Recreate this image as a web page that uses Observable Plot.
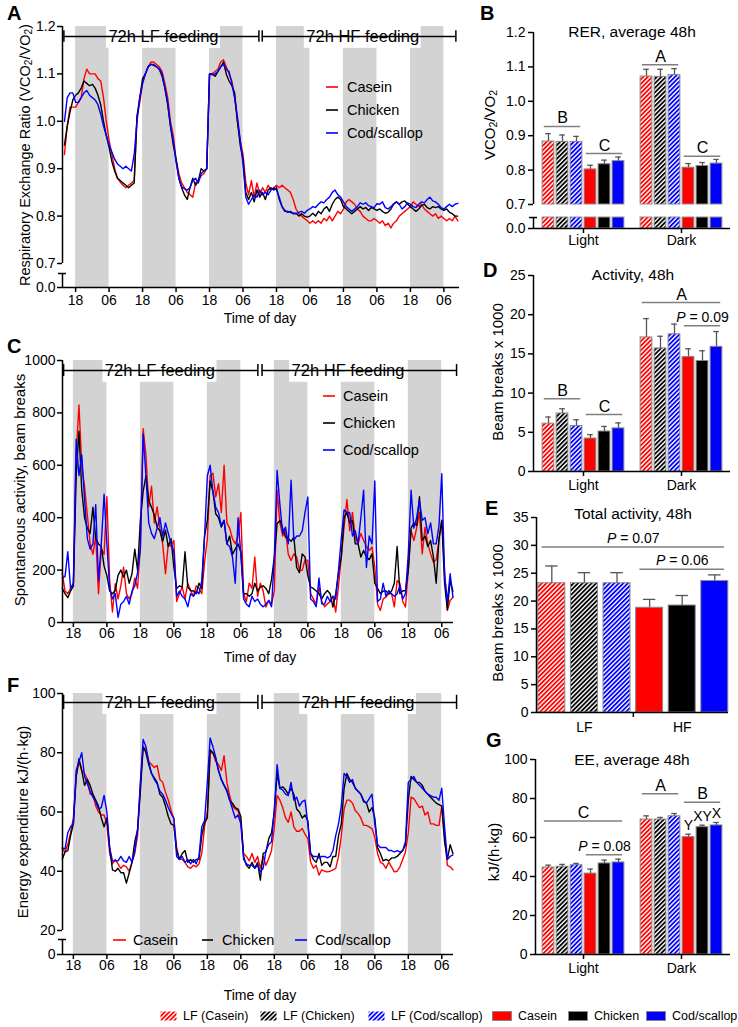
<!DOCTYPE html>
<html><head><meta charset="utf-8">
<script src="https://cdn.jsdelivr.net/npm/d3@7"></script>
<script src="https://cdn.jsdelivr.net/npm/@observablehq/plot@0.6"></script>
<style>
body{margin:0;background:#fff;}
#fig{position:relative;width:738px;height:1027px;overflow:hidden;background:#fff;font-family:"Liberation Sans",Arial,Helvetica,sans-serif;color:#000;}
.abs{position:absolute;white-space:nowrap;line-height:1;}
.abs sub{font-size:0.7em;vertical-align:-0.25em;line-height:0;}
</style></head><body><div id="fig"></div>
<script>
const FONT = '"Liberation Sans", Arial, Helvetica, sans-serif';
const fig = document.getElementById("fig");

// ================= DATA =================
const seriesNames = ["Casein", "Chicken", "Cod/scallop"];
const seriesColors = ["#ff0000", "#000000", "#0000ff"];
const tStart = -4;                       // first hourly sample, hours from the first 18:00
const darkStarts = [0, 24, 48, 72, 96, 120];
const darkHours = 12;
const timeTicks = [0, 12, 24, 36, 48, 60, 72, 84, 96, 108, 120, 132];
const timeTickLabels = ["18","06","18","06","18","06","18","06","18","06","18","06"];
const feedLabels = ["72h LF feeding", "72h HF feeding"];

// RER (VCO2/VO2), hourly from t = -4
const rerCasein = [
0.93,0.99,1.03,1.03,1.03,1.04,1.05,1.09,1.11,1.10,1.10,1.10,
1.09,1.085,1.05,1.00,0.96,0.93,0.90,0.88,0.872,0.865,0.86,0.865,
0.87,0.875,1.01,1.04,1.08,1.10,1.115,1.125,1.125,1.12,1.115,1.105,
1.08,1.05,1.00,0.97,0.92,0.89,0.87,0.86,0.85,0.845,0.84,0.87,
0.875,0.885,0.89,0.90,1.10,1.10,1.105,1.11,1.125,1.13,1.115,1.10,
1.085,1.05,1.00,0.96,0.93,0.87,0.845,0.875,0.84,0.87,0.845,0.86,
0.85,0.865,0.855,0.86,0.865,0.86,0.865,0.86,0.855,0.85,0.835,0.815,
0.805,0.80,0.795,0.79,0.785,0.79,0.785,0.79,0.785,0.795,0.79,0.80,
0.79,0.80,0.81,0.805,0.815,0.83,0.835,0.83,0.825,0.815,0.81,0.80,
0.795,0.79,0.79,0.795,0.79,0.785,0.79,0.78,0.785,0.775,0.785,0.79,
0.80,0.805,0.81,0.815,0.82,0.83,0.825,0.82,0.825,0.815,0.81,0.805,
0.80,0.805,0.795,0.80,0.795,0.79,0.795,0.79,0.80,0.79];
const rerChicken = [
0.95,0.99,1.02,1.045,1.055,1.06,1.07,1.085,1.08,1.075,1.078,1.07,
1.055,1.035,1.00,0.97,0.945,0.915,0.895,0.88,0.875,0.87,0.865,0.86,
0.865,0.87,1.01,1.05,1.09,1.10,1.115,1.12,1.118,1.115,1.11,1.095,
1.07,1.035,0.99,0.95,0.92,0.88,0.86,0.845,0.835,0.86,0.88,0.865,
0.875,0.90,0.895,0.90,1.10,1.10,1.095,1.105,1.115,1.125,1.10,1.085,
1.075,1.06,1.00,0.95,0.92,0.85,0.835,0.85,0.83,0.855,0.84,0.85,
0.835,0.855,0.86,0.855,0.86,0.835,0.82,0.81,0.81,0.808,0.805,0.806,
0.80,0.805,0.80,0.798,0.80,0.806,0.80,0.81,0.805,0.815,0.82,0.81,
0.825,0.835,0.84,0.835,0.82,0.815,0.81,0.805,0.81,0.815,0.82,0.815,
0.818,0.812,0.818,0.815,0.812,0.815,0.81,0.806,0.808,0.815,0.825,0.83,
0.825,0.83,0.832,0.825,0.82,0.815,0.81,0.815,0.822,0.825,0.818,0.815,
0.82,0.818,0.82,0.815,0.812,0.815,0.808,0.805,0.80,0.80];
const rerCod = [
1.0,1.05,1.06,1.06,1.04,1.04,1.05,1.06,1.065,1.055,1.05,1.045,
1.035,1.015,0.99,0.97,0.95,0.935,0.92,0.91,0.905,0.90,0.905,0.90,
0.895,0.93,1.00,1.05,1.08,1.10,1.115,1.12,1.12,1.115,1.11,1.10,
1.07,1.04,0.99,0.96,0.915,0.88,0.862,0.858,0.855,0.86,0.875,0.88,
0.87,0.89,0.895,0.90,1.10,1.098,1.10,1.105,1.115,1.12,1.11,1.105,
1.08,1.05,1.01,0.96,0.91,0.84,0.825,0.835,0.845,0.84,0.855,0.845,
0.85,0.845,0.855,0.86,0.855,0.84,0.82,0.812,0.808,0.81,0.806,0.805,
0.808,0.81,0.806,0.812,0.815,0.82,0.818,0.825,0.83,0.828,0.835,0.84,
0.85,0.855,0.845,0.84,0.83,0.82,0.815,0.81,0.815,0.82,0.828,0.825,
0.828,0.822,0.82,0.818,0.826,0.825,0.83,0.818,0.815,0.82,0.826,0.83,
0.825,0.815,0.82,0.828,0.825,0.82,0.818,0.825,0.83,0.828,0.835,0.84,
0.832,0.83,0.825,0.818,0.815,0.82,0.825,0.82,0.825,0.827];

// Spontaneous activity (beam breaks), hourly from t = -4
const actCasein = [
190,120,110,130,140,640,830,600,520,410,300,260,
330,110,280,260,480,160,40,148,90,140,211,110,
90,110,170,130,290,740,640,441,520,380,441,360,
300,186,300,290,313,80,110,135,90,150,122,100,
140,130,110,230,320,560,570,480,530,420,600,380,
360,320,300,330,420,110,80,150,130,250,100,150,
120,59,84,70,120,505,380,330,352,260,237,262,
250,200,199,240,237,110,90,70,135,80,60,71,
80,100,40,140,250,364,470,350,420,326,300,340,
313,290,275,288,211,70,46,90,97,110,110,60,
160,150,80,59,200,350,313,360,420,262,364,300,
262,230,240,313,390,200,46,84,97];
const actChicken = [
130,110,95,120,140,560,730,505,400,360,340,440,
320,300,290,215,180,120,110,122,180,200,173,200,
150,186,280,200,390,500,560,466,440,410,364,350,
310,352,290,320,211,130,140,135,270,135,122,120,
110,150,130,330,390,540,500,415,400,364,390,300,
330,260,280,300,270,110,110,100,110,150,120,135,
140,130,110,165,250,377,390,360,326,320,310,326,
210,190,262,250,180,135,130,120,110,90,110,122,
110,59,110,190,250,400,420,380,390,300,300,250,
275,250,240,262,150,130,110,120,120,110,120,150,
290,110,120,122,200,360,380,370,480,313,330,290,
313,250,150,320,390,150,50,160,120];
const actCod = [
170,175,270,130,150,700,560,640,470,320,280,300,
450,160,300,490,300,130,90,110,20,70,80,100,
70,120,140,190,280,720,560,380,340,320,360,400,
330,380,340,300,270,100,120,100,90,60,110,100,
120,110,160,330,560,600,500,440,420,370,390,300,
290,250,150,400,260,90,70,60,100,80,90,70,
60,70,84,60,250,580,450,340,364,300,543,313,
330,330,350,420,479,90,80,60,170,71,70,100,
80,100,90,200,320,430,420,420,330,350,300,400,
505,210,330,300,540,80,90,150,100,122,110,100,
110,140,90,110,260,505,360,400,466,390,400,339,
380,300,300,370,568,180,80,186,97];

// Energy expenditure kJ/(h·kg), hourly from t = -4
const eeCasein = [
47.5,46.5,49,53,58,72,77,74,73,71,66,66,
62,60,59,59,56,46,42.5,44,42.5,41,42,41.5,
40,43,46,52,69,82,81,77,76,75,75.7,71,
70,66.7,64,60.5,57.8,48,44,44,43,41.5,41,42,
41.5,42.5,46,55,60,80,80,77,76,74,79,70,
65.5,62,61,60.5,56.6,46,45,43.5,46,43,45,41,
45,42,44.3,47,55,65.6,64,61.5,58,56.5,60,55,
53.5,53.5,54.4,52.5,51,43.1,41,42,38.7,40.5,40,39.8,
40,40.5,41,45,52,61,64,64,63,60.5,59.5,58,
55.5,55.5,55,54.4,51.5,46,43.1,42.5,41,43.1,41.5,39.8,
40,41.5,44,46.5,53,65,64.5,63,61.5,62,59,60,
56,56,55.5,55.5,62,52,42,41.5,40.5];
const eeChicken = [
44,46.5,47,52,56,72,78,74,69,71,69,66,
64,62,58,55,58,48,40.5,40,41,39.5,39.5,36,
39.5,43,50,54,67,82,80,76,73,71.5,70,66,
65,62,58.5,56,55.5,47,44,46,47,43,44,43,
44,44,52,56.5,58,81,80,78,74,71,69,67,
64,63,61.5,61,58.5,45,42,41,43,41,43,37,
46,46.5,51,53,60,73,68,68.5,67.5,66,68,66,
61,60,58,59,57,46,44,43,46,42,43,43,
41.5,45,45,52,56,68,73,71,70,68,67,66,
63.5,63,60,61.5,58,48,46,43.5,44,43.5,44.5,44.5,
45,46,47,49,64,72,71,70,70,69,67,66,
65,64,63,62.5,62,50,44,49,46];
const eeCod = [
48,47.5,53,55,56,74,77,80,72,69.5,67,65,
63.5,61,61.5,65.6,60,48,43.5,43.5,43.5,45,43.5,43,
45,43,47,54,70,84.5,82,77,73,71,69.5,67,
66,64,61.5,59.5,57.8,45,44,45,43,44,42.5,44,
42.5,45,55,57,70,85,82,78.5,74,71,69,67.5,
64,61,58,59,56,44,42.5,42,42,41,42,39.8,
41,47,49,50,61,76,68,67.5,66,65.5,70,64,
65,62,63.5,64,56,46,45,45,44.5,45,45,44.5,
45,47,52,56,62,73,72,70,71,68,67,66,
64,63,64.5,66,56,49,48,48,48,47,47,46.5,
47,46.5,47,50,70,71,72,70,69,68,67,66,
65.5,65,65,64,68,55,44,45,45.5];

// Bar charts
const dietNames = ["LF (Casein)", "LF (Chicken)", "LF (Cod/scallop)", "Casein", "Chicken", "Cod/scallop"];
const dietColors = ["#ff0000", "#000000", "#0000ff", "#ff0000", "#000000", "#0000ff"];
const dietHatched = [true, true, true, false, false, false];
const phaseGroups = ["Light", "Dark"];
const dietGroups = ["LF", "HF"];

const rerLight = [0.883, 0.882, 0.882, 0.802, 0.817, 0.826];
const rerLightSem = [0.023, 0.020, 0.016, 0.012, 0.012, 0.012];
const rerDark = [1.072, 1.071, 1.076, 0.807, 0.812, 0.819];
const rerDarkSem = [0.021, 0.022, 0.019, 0.012, 0.010, 0.012];

const actLight = [6.1, 7.4, 5.8, 4.2, 5.1, 5.5];
const actLightSem = [0.85, 0.6, 0.8, 0.5, 0.65, 0.7];
const actDark = [17.1, 15.7, 17.5, 14.6, 14.1, 15.9];
const actDarkSem = [2.4, 1.55, 1.3, 1.05, 1.3, 1.95];

const totLF = [23.2, 23.2, 23.2];
const totLFSem = [3.1, 1.9, 1.9];
const totHF = [18.8, 19.2, 23.6];
const totHFSem = [1.5, 1.8, 1.1];

const eeLight = [44.6, 45.0, 45.8, 41.5, 46.7, 47.2];
const eeLightSem = [1.2, 1.2, 0.9, 2.3, 1.7, 1.7];
const eeDark = [69.2, 69.2, 70.9, 60.2, 65.3, 66.2];
const eeDarkSem = [1.9, 1.1, 1.4, 1.5, 1.0, 1.5];

// significance annotations (group g, bars from..to, y level)
const rerLetters = [
  {text: "B", g: 0, from: 0, to: 2, y: 0.927}, {text: "C", g: 0, from: 3, to: 5, y: 0.848},
  {text: "A", g: 1, from: 0, to: 2, y: 1.106}, {text: "C", g: 1, from: 3, to: 5, y: 0.840}];
const actLetters = [
  {text: "B", g: 0, from: 0, to: 2, y: 9.27}, {text: "C", g: 0, from: 3, to: 5, y: 7.27},
  {text: "A", g: 1, from: 0, to: 5, y: 21.55}, {text: "= 0.09", p: true, g: 1, from: 3, to: 5, y: 18.6}];
const totLetters = [
  {text: "= 0.07", p: true, g: 0, from: 0, to: 5, y: 29.7},
  {text: "= 0.06", p: true, g: 0, from: 3, to: 5, y: 25.7}];
const eeLetters = [
  {text: "C", g: 0, from: 0, to: 5, y: 68.4}, {text: "= 0.08", p: true, g: 0, from: 3, to: 5, y: 51.1},
  {text: "A", g: 1, from: 0, to: 2, y: 82.4}, {text: "B", g: 1, from: 3, to: 5, y: 78.1}];
const eeBarMarks = [{text: "Y", g: 1, i: 3}, {text: "XY", g: 1, i: 4}, {text: "X", g: 1, i: 5}];

// ================= HELPERS =================
const mctx = document.createElement("canvas").getContext("2d");
function measure(text, size, style = "") { mctx.font = `${style} ${size}px ${FONT}`; return mctx.measureText(text).width; }

fig.insertAdjacentHTML("beforeend",
  `<svg width="0" height="0" style="position:absolute"><defs>${dietColors.map((c, k) =>
    `<pattern id="hatch${k}" patternUnits="userSpaceOnUse" width="3.2" height="3.2" patternTransform="rotate(45)"><rect width="3.2" height="3.2" fill="#fff"/><rect width="1.8" height="3.2" fill="${c}"/></pattern>`).join("")}</defs></svg>`);

function place(svg, left, top) {
  svg.style.position = "absolute"; svg.style.left = left + "px"; svg.style.top = top + "px";
  fig.appendChild(svg);
}
function label(html, x, baseline, {size = 15, weight = 400, anchor = "start"} = {}) {
  const d = document.createElement("div");
  d.className = "abs";
  d.style.fontSize = size + "px"; d.style.fontWeight = weight;
  d.style.left = x + "px"; d.style.top = (baseline - 0.8465 * size) + "px";
  if (anchor === "middle") d.style.transform = "translateX(-50%)";
  d.innerHTML = html; fig.appendChild(d); return d;
}
function vlabel(html, cx, cy, size = 15) {
  const d = document.createElement("div");
  d.className = "abs";
  d.style.fontSize = size + "px"; d.style.left = cx + "px"; d.style.top = cy + "px";
  d.style.transform = "translate(-50%,-50%) rotate(-90deg)";
  d.innerHTML = html; fig.appendChild(d);
}
const plotStyle = {fontFamily: FONT, fontSize: "14px", background: "transparent", overflow: "visible", color: "#000"};

// ================= TIME-SERIES PANELS =================
function timePanel(c) {
  const yMin = c.yDomain[0], yMax = c.yDomain[c.yDomain.length - 1];
  const [x0, x1] = c.xDomain;
  const pxPerHour = (c.width - c.mL - c.mR) / (x1 - x0);
  const bands = darkStarts.map(s => ({x1: s, x2: s + darkHours}));
  const phases = feedLabels.map((lab, k) => ({label: lab, start: c.start[k], end: c.end[k], mid: c.mid[k]}));
  const boxes = phases.map(p => {
    const half = (measure(p.label, 16.5) / 2 + 2) / pxPerHour;
    return {x1: p.mid - half, x2: p.mid + half};
  });
  const marks = [
    Plot.rect(bands, {x1: "x1", x2: "x2", y1: yMin, y2: yMax, fill: "#d3d3d3"}),
    Plot.rect(boxes, {x1: "x1", x2: "x2", y1: c.boxBottom, y2: yMax, fill: "#ffffff"}),
    ...c.values.map((arr, k) => Plot.line(arr.map((v, i) => ({t: tStart + i, v})),
      {x: "t", y: "v", stroke: seriesColors[k], strokeWidth: 1.4})),
    Plot.ruleY(phases, {x1: "start", x2: "end", y: c.bracketY, strokeWidth: 1.5}),
    Plot.ruleX(phases.flatMap(p => [p.start, p.end]), {y1: c.bracketY - c.tickH, y2: c.bracketY + c.tickH, strokeWidth: 1.5}),
    Plot.text(phases, {x: "mid", y: c.bracketY, text: "label", fontSize: 16.5}),
    Plot.ruleY([yMin], {x1: x0, x2: x1, strokeWidth: 1.5})
  ];
  if (c.stubTop != null) {
    marks.push(Plot.ruleX([x0], {y1: c.brkHi, y2: yMax, strokeWidth: 1.5}));
    marks.push(Plot.ruleX([x0], {y1: yMin, y2: c.stubTop, strokeWidth: 1.5}));
    marks.push(Plot.ruleY([c.stubTop], {x1: x0 - 4 / pxPerHour, x2: x0 + 4 / pxPerHour, strokeWidth: 1.5}));
  } else {
    marks.push(Plot.ruleX([x0], {y1: yMin, y2: yMax, strokeWidth: 1.5}));
  }
  marks.push(Plot.axisY({ticks: c.yTicks, tickFormat: c.yFormat, tickSize: 5, tickPadding: 2, strokeWidth: 1.5, label: null}));
  marks.push(Plot.axisX({ticks: timeTicks, tickFormat: d => timeTickLabels[timeTicks.indexOf(d)], tickSize: 5, tickPadding: c.xPad, strokeWidth: 1.5, label: null}));
  const svg = Plot.plot({
    width: c.width, height: c.height,
    marginLeft: c.mL, marginRight: c.mR, marginTop: c.mT, marginBottom: c.mB,
    x: {domain: c.xDomain},
    y: {type: "linear", domain: c.yDomain, range: c.yRangePage.map(v => v - c.top)},
    style: plotStyle, marks
  });
  place(svg, c.left, c.top);
}

timePanel({
  left: 0, top: 0, width: 470, height: 312, mL: 62, mR: 11, mT: 26, mB: 25,
  xDomain: [-4.7, 137.6], yDomain: [0, 0.7, 1.2], yRangePage: [287, 263, 26],
  yTicks: [0, 0.7, 0.8, 0.9, 1.0, 1.1, 1.2], yFormat: d3.format(".1f"),
  stubTop: 0.408, brkHi: 0.7, values: [rerCasein, rerChicken, rerCod],
  start: [-4.2, 66.9], end: [65.7, 136.3], mid: [31.5, 102.9],
  bracketY: 1.179, tickH: 0.012, boxBottom: 1.154, xPad: 3
});
timePanel({
  left: 0, top: 330, width: 470, height: 322, mL: 62, mR: 17, mT: 30, mB: 30,
  xDomain: [-3.9, 136.2], yDomain: [0, 1000], yRangePage: [622, 360],
  yTicks: [0, 200, 400, 600, 800, 1000], yFormat: d3.format("d"),
  stubTop: null, values: [actCasein, actChicken, actCod],
  start: [-3.5, 67.6], end: [66.1, 137.3], mid: [31.0, 98.4],
  bracketY: 962, tickH: 23, boxBottom: 917, xPad: 1
});
timePanel({
  left: 0, top: 660, width: 470, height: 320, mL: 62, mR: 17, mT: 33, mB: 26,
  xDomain: [-3.9, 136.2], yDomain: [0, 20, 100], yRangePage: [954, 930, 693],
  yTicks: [0, 20, 40, 60, 80, 100], yFormat: d3.format("d"),
  stubTop: 12.5, brkHi: 20, values: [eeCasein, eeChicken, eeCod],
  start: [-3.5, 67.6], end: [66.1, 137.3], mid: [31.0, 102.0],
  bracketY: 97.0, tickH: 2.4, boxBottom: 92.9, xPad: 1
});

// ================= BAR PANELS =================
function barPanel(c) {
  const bars = [];
  c.means.forEach((arr, g) => arr.forEach((m, i) => {
    bars.push({pos: c.pos(g, i), m, e: m + c.sems[g][i], k: c.diet(g, i)});
  }));
  const fill = d => dietHatched[d.k] ? `url(#hatch${d.k})` : dietColors[d.k];
  const yMin = c.yDomain[0], yMax = c.yDomain[c.yDomain.length - 1];
  const [x0, x1] = c.xDomain;
  const pxPerUnit = (c.width - c.mL - c.mR) / (x1 - x0);
  const base = c.stubTop != null ? c.brkHi : yMin;
  const marks = [
    Plot.rect(bars, {x1: d => d.pos - c.hw, x2: d => d.pos + c.hw, y1: base, y2: "m", fill, stroke: "#8a8a8a", strokeWidth: 1})
  ];
  if (c.stubTop != null) {
    marks.push(Plot.rect(bars, {x1: d => d.pos - c.hw, x2: d => d.pos + c.hw, y1: yMin, y2: c.stubTop, fill, stroke: "#8a8a8a", strokeWidth: 1}));
  }
  marks.push(
    Plot.ruleX(bars, {x: "pos", y1: "m", y2: "e", stroke: "#555", strokeWidth: 1.3}),
    Plot.ruleY(bars, {x1: d => d.pos - c.cap, x2: d => d.pos + c.cap, y: "e", stroke: "#555", strokeWidth: 1.3})
  );
  const ann = c.letters.map(a => ({...a, x1: c.pos(a.g, a.from) - 0.3, x2: c.pos(a.g, a.to) + 0.3, xm: (c.pos(a.g, a.from) + c.pos(a.g, a.to)) / 2}));
  marks.push(Plot.ruleY(ann, {x1: "x1", x2: "x2", y: "y", stroke: "#808080", strokeWidth: 1.5}));
  marks.push(Plot.text(ann.filter(a => !a.p), {x: "xm", y: "y", text: "text", fontSize: 16, lineAnchor: "bottom", dy: -3}));
  ann.filter(a => a.p).forEach(a => {
    const wP = measure("P ", 14, "italic"), wR = measure(a.text, 14);
    const startDx = -(wP + wR) / 2;
    marks.push(Plot.text([a], {x: "xm", y: "y", text: () => "P", fontSize: 14, fontStyle: "italic", textAnchor: "start", lineAnchor: "bottom", dy: -4, dx: startDx}));
    marks.push(Plot.text([a], {x: "xm", y: "y", text: "text", fontSize: 14, textAnchor: "start", lineAnchor: "bottom", dy: -4, dx: startDx + wP}));
  });
  if (c.barMarks) {
    const bm = c.barMarks.map(b => {
      const bar = bars.find(d => d.pos === c.pos(b.g, b.i));
      return {...b, x: bar.pos, y: bar.e};
    });
    marks.push(Plot.text(bm, {x: "x", y: "y", text: "text", fontSize: 14, lineAnchor: "bottom", dy: -4}));
  }
  // axes
  marks.push(Plot.ruleY([yMin], {x1: x0, x2: x1, strokeWidth: 1.5}));
  if (c.stubTop != null) {
    marks.push(Plot.ruleX([x0], {y1: c.brkHi, y2: yMax, strokeWidth: 1.5}));
    marks.push(Plot.ruleX([x0], {y1: yMin, y2: c.stubTop, strokeWidth: 1.5}));
    marks.push(Plot.ruleY([c.stubTop], {x1: x0 - 4 / pxPerUnit, x2: x0 + 4 / pxPerUnit, strokeWidth: 1.5}));
  } else {
    marks.push(Plot.ruleX([x0], {y1: yMin, y2: yMax, strokeWidth: 1.5}));
  }
  marks.push(Plot.axisY({ticks: c.yTicks, tickFormat: c.yFormat, tickSize: 5, tickPadding: 3, strokeWidth: 1.5, label: null}));
  marks.push(Plot.axisX({ticks: c.groupTicks, tickFormat: d => c.groupLabels[c.groupTicks.indexOf(d)], tickSize: c.groupTickSize, tickPadding: c.xPad, strokeWidth: 1.5, label: null}));
  if (c.sepTicks) marks.push(Plot.axisX({ticks: c.sepTicks, tickFormat: () => "", tickSize: 5, strokeWidth: 1.5, label: null}));
  const svg = Plot.plot({
    width: c.width, height: c.height,
    marginLeft: c.mL, marginRight: c.mR, marginTop: c.mT, marginBottom: c.mB,
    x: {domain: c.xDomain},
    y: {type: "linear", domain: c.yDomain, range: c.yRangePage.map(v => v - c.top)},
    color: {type: "identity"},
    style: plotStyle, marks
  });
  place(svg, c.left, c.top);
}

const groupedPos = (g, i) => g * 7 + i;
barPanel({
  left: 470, top: 0, width: 268, height: 262, mL: 63, mR: 8, mT: 32, mB: 34,
  xDomain: [-1.07, 13.0], yDomain: [0, 0.7, 1.2], yRangePage: [228, 204, 32],
  yTicks: [0, 0.7, 0.8, 0.9, 1.0, 1.1, 1.2], yFormat: d3.format(".1f"),
  stubTop: 0.32, brkHi: 0.7,
  means: [rerLight, rerDark], sems: [rerLightSem, rerDarkSem],
  pos: groupedPos, diet: (g, i) => i, hw: 0.42, cap: 0.2,
  groupTicks: [2.5, 9.5], groupLabels: phaseGroups, groupTickSize: 5, xPad: 2,
  letters: rerLetters
});
barPanel({
  left: 470, top: 262, width: 268, height: 233, mL: 63, mR: 8, mT: 13, mB: 24,
  xDomain: [-1.07, 13.0], yDomain: [0, 25], yRangePage: [471, 275],
  yTicks: [0, 5, 10, 15, 20, 25], yFormat: d3.format("d"),
  means: [actLight, actDark], sems: [actLightSem, actDarkSem],
  pos: groupedPos, diet: (g, i) => i, hw: 0.42, cap: 0.2,
  groupTicks: [2.5, 9.5], groupLabels: phaseGroups, groupTickSize: 5, xPad: 4,
  letters: actLetters
});
barPanel({
  left: 470, top: 500, width: 268, height: 240, mL: 66, mR: 10, mT: 17, mB: 28,
  xDomain: [-0.47, 5.42], yDomain: [0, 35], yRangePage: [712, 517],
  yTicks: [0, 5, 10, 15, 20, 25, 30, 35], yFormat: d3.format("d"),
  means: [totLF, totHF], sems: [totLFSem, totHFSem],
  pos: (g, i) => g * 3 + i, diet: (g, i) => g * 3 + i, hw: 0.414, cap: 0.19,
  groupTicks: [1, 4], groupLabels: dietGroups, groupTickSize: 0, xPad: 10, sepTicks: [2.5],
  letters: totLetters
});
barPanel({
  left: 470, top: 745, width: 268, height: 235, mL: 65, mR: 8, mT: 14, mB: 26,
  xDomain: [-0.93, 13.0], yDomain: [0, 100], yRangePage: [954, 759],
  yTicks: [0, 20, 40, 60, 80, 100], yFormat: d3.format("d"),
  means: [eeLight, eeDark], sems: [eeLightSem, eeDarkSem],
  pos: groupedPos, diet: (g, i) => i, hw: 0.42, cap: 0.2,
  groupTicks: [2.5, 9.5], groupLabels: phaseGroups, groupTickSize: 5, xPad: 4,
  letters: eeLetters, barMarks: eeBarMarks
});

// ================= TEXT OVERLAYS =================
[["A", 7, 20], ["B", 480, 20], ["C", 7, 353], ["D", 483, 277], ["E", 485, 515], ["F", 7, 692], ["G", 486, 747]]
  .forEach(([t, x, y]) => label(t, x, y, {size: 20, weight: 700}));

label("RER, average 48h", 632, 37, {size: 15.5, anchor: "middle"});
label("Activity, 48h", 633, 280, {size: 15.5, anchor: "middle"});
label("Total activity, 48h", 633, 519, {size: 15.5, anchor: "middle"});
label("EE, average 48h", 632, 765, {size: 15.5, anchor: "middle"});

label("Time of day", 260, 323, {size: 14, anchor: "middle"});
label("Time of day", 260, 662, {size: 14, anchor: "middle"});
label("Time of day", 260, 1000, {size: 14, anchor: "middle"});

vlabel("Respiratory Exchange Ratio (VCO<sub>2</sub>/VO<sub>2</sub>)", 25, 155, 14.5);
vlabel("Spontaneous activity, beam breaks", 19, 490, 15);
vlabel("Energy expenditure kJ/(h·kg)", 22, 822, 15);
vlabel("VCO<sub>2</sub>/VO<sub>2</sub>", 489, 125, 15);
vlabel("Beam breaks x 1000", 497, 372, 15);
vlabel("Beam breaks x 1000", 497, 613, 15);
vlabel("kJ/(h·kg)", 493, 852, 15);

// in-panel line legends (small svg line swatch + text)
function lineLegendItem(k, x1, x2, tx, cy, size) {
  const w = x2 - x1;
  fig.insertAdjacentHTML("beforeend",
    `<svg class="abs" style="left:${x1}px;top:${cy - 2}px" width="${w}" height="4"><line x1="0" x2="${w}" y1="2" y2="2" stroke="${seriesColors[k]}" stroke-width="1.6"/></svg>`);
  const d = document.createElement("div");
  d.className = "abs"; d.style.fontSize = size + "px";
  d.style.left = tx + "px"; d.style.top = (cy - 0.49 * size) + "px";
  d.textContent = seriesNames[k]; fig.appendChild(d);
}
[87, 110, 133].forEach((cy, k) => lineLegendItem(k, 326, 338, 347, cy, 14.5));
[396, 423, 450].forEach((cy, k) => lineLegendItem(k, 323, 335, 343, cy, 14.5));
[[113, 126, 133], [202, 213, 222], [295, 307, 315]].forEach(([a, b, t], k) => lineLegendItem(k, a, b, t, 940, 14.5));

// bottom legend
const swatchLeft = [160, 260, 368, 492, 568, 646];
dietNames.forEach((name, k) => {
  const w = dietHatched[k] ? 17 : 20;
  const fill = dietHatched[k] ? `url(#hatch${k})` : dietColors[k];
  const stroke = dietHatched[k] ? "none" : "#888";
  fig.insertAdjacentHTML("beforeend",
    `<svg class="abs" style="left:${swatchLeft[k]}px;top:1011px" width="${w}" height="10"><rect x="0.5" y="0.5" width="${w - 1}" height="9" fill="${fill}" stroke="${stroke}"/></svg>`);
  const d = document.createElement("div");
  d.className = "abs"; d.style.fontSize = "12.5px";
  d.style.left = (swatchLeft[k] + w + 6) + "px"; d.style.top = (1016 - 0.49 * 12.5) + "px";
  d.textContent = name; fig.appendChild(d);
});
</script></body></html>
